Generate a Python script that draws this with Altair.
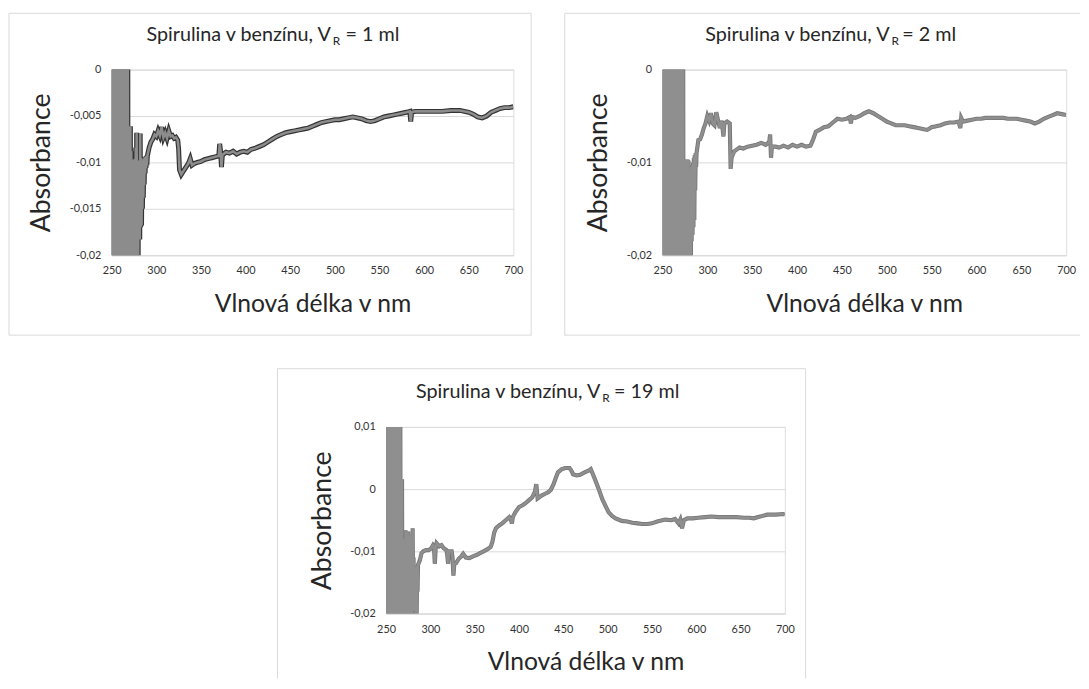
import altair as alt
import pandas as pd

FONT = "Lato"
GRID = "#d9d9d9"
FRAME = "#d9d9d9"
TXT = "#262626"

# ---------------- Panel 1: V_R = 1 ml ----------------
p1_noise_nm = [250, 251, 252, 253, 254, 255, 256, 257, 258, 259, 260, 261, 262, 263, 264, 265, 266, 267, 268, 269,
               270, 271, 272, 273, 274, 275, 276, 277, 278, 279, 280, 281, 282, 283, 284, 285, 286, 287, 288, 289]
p1_noise_hi = [0.01, 0.01, 0.01, 0.01, 0.01, 0.01, 0.01, 0.01, 0.01, 0.01, 0.01, 0.01, 0.01, 0.01, 0.01, 0.01, 0.01, 0.01, 0.01, -0.0097,
               -0.0090, -0.0061, -0.0088, -0.0097, -0.0099, -0.0098, -0.0096, -0.0084, -0.0068, -0.0098,
               -0.0098, -0.0100, -0.0069, -0.0095, -0.0100, -0.0098, -0.0096, -0.0094, -0.0094, -0.0093]
p1_noise_lo = [-0.03, -0.03, -0.03, -0.03, -0.03, -0.03, -0.03, -0.03, -0.03, -0.03, -0.03, -0.03, -0.03, -0.03, -0.03, -0.03, -0.03, -0.017, -0.03, -0.03,
               -0.03, -0.03, -0.03, -0.03, -0.03, -0.03, -0.03, -0.03, -0.03, -0.03,
               -0.0178, -0.0183, -0.0170, -0.0168, -0.0150, -0.0138, -0.0124, -0.0112, -0.0106, -0.0103]
p1_nm = [290, 292, 294, 296, 298, 300, 302, 304, 306, 308, 310, 312, 314, 316, 318, 320, 322, 324, 325, 326,
         328, 330, 332, 334, 336, 338, 340, 343, 346, 350, 354, 358, 362, 366, 370, 371, 372, 373, 374, 378,
         382, 386, 390, 394, 398, 402, 406, 410, 415, 420, 425, 430, 435, 440, 445, 450, 455, 460, 465, 470,
         475, 480, 485, 490, 495, 500, 505, 510, 515, 520, 525, 530, 535, 540, 545, 550, 555, 560, 565, 570,
         575, 580, 584, 585, 586, 590, 595, 600, 610, 620, 630, 640, 650, 655, 660, 665, 670, 675, 680, 685,
         690, 695, 700]
p1_abs = [-0.0093, -0.0084, -0.0078, -0.0075, -0.0070, -0.0072, -0.0066, -0.0071, -0.0062, -0.0073, -0.0068, -0.0074, -0.0066, -0.0072, -0.0071, -0.0074, -0.0073, -0.0076, -0.0085, -0.0108,
          -0.0113, -0.0110, -0.0107, -0.0104, -0.0101, -0.0096, -0.0103, -0.0101, -0.0100, -0.0099, -0.0097, -0.0096, -0.0095, -0.0094, -0.0093, -0.0080, -0.0088, -0.0105, -0.0092, -0.0089,
          -0.0090, -0.0088, -0.0091, -0.0089, -0.0088, -0.0089, -0.0086, -0.0085, -0.0083, -0.0081, -0.0078, -0.0075, -0.0072, -0.0070, -0.0068, -0.0067, -0.0066, -0.0065, -0.0064, -0.0063,
          -0.0061, -0.0059, -0.0057, -0.0056, -0.0055, -0.0054, -0.0054, -0.0053, -0.0052, -0.0051, -0.0052, -0.0053, -0.0055, -0.0056, -0.0055, -0.0053, -0.0051, -0.0050, -0.0049, -0.0048,
          -0.0047, -0.0046, -0.0045, -0.0056, -0.0046, -0.0045, -0.0045, -0.0045, -0.0045, -0.0045, -0.0044, -0.0044, -0.0046, -0.0048, -0.0051, -0.0052, -0.0050, -0.0046, -0.0044, -0.0042,
          -0.0041, -0.0041, -0.0040]

# ---------------- Panel 2: V_R = 2 ml ----------------
p2_noise_nm = [250, 251, 252, 253, 254, 255, 256, 257, 258, 259, 260, 261, 262, 263, 264, 265, 266, 267, 268, 269,
               270, 271, 272, 273, 274, 275, 276, 277, 278, 279, 280, 281, 282, 283, 284, 285, 286, 287]
p2_noise_hi = [0.01, 0.01, 0.01, 0.01, 0.01, 0.01, 0.01, 0.01, 0.01, 0.01, 0.01, 0.01, 0.01, 0.01, 0.01, 0.01, 0.01, 0.01, 0.01, 0.01,
               0.01, 0.01, 0.01, 0.01, -0.0097, -0.0097, -0.0100, -0.0097, -0.0097, -0.0098,
               -0.0112, -0.0110, -0.0105, -0.0103, -0.0100, -0.0095, -0.0092, -0.0090]
p2_noise_lo = [-0.03, -0.03, -0.03, -0.03, -0.03, -0.03, -0.03, -0.03, -0.03, -0.03, -0.03, -0.03, -0.03, -0.019, -0.03, -0.03, -0.03, -0.03, -0.03, -0.03,
               -0.03, -0.03, -0.03, -0.03, -0.03, -0.03, -0.03, -0.0153, -0.0153, -0.03,
               -0.03, -0.03, -0.0185, -0.0178, -0.0170, -0.0162, -0.0130, -0.0105]
p2_nm = [288, 290, 292, 294, 296, 298, 300, 302, 304, 306, 308, 310, 312, 314, 316, 318, 319, 322, 325, 326,
         327, 330, 333, 336, 340, 345, 350, 355, 360, 365, 369, 370, 371, 372, 376, 380, 385, 390, 395, 400,
         405, 410, 415, 418, 421, 425, 430, 435, 440, 445, 450, 455, 459, 460, 461, 465, 470, 475, 480, 485,
         490, 495, 500, 505, 510, 515, 520, 525, 530, 535, 540, 545, 550, 555, 560, 565, 570, 575, 580, 582,
         583, 585, 590, 595, 600, 605, 610, 615, 620, 625, 630, 635, 640, 645, 650, 655, 660, 665, 670, 675,
         680, 685, 690, 695, 700]
p2_abs = [-0.0090, -0.0076, -0.0075, -0.0070, -0.0063, -0.0058, -0.0050, -0.0055, -0.0047, -0.0058, -0.0060, -0.0046, -0.0055, -0.0063, -0.0055, -0.0072, -0.0058, -0.0056, -0.0058, -0.0107,
          -0.0095, -0.0088, -0.0086, -0.0084, -0.0085, -0.0083, -0.0082, -0.0081, -0.0079, -0.0081, -0.0078, -0.0070, -0.0095, -0.0083, -0.0083, -0.0084, -0.0082, -0.0084, -0.0081, -0.0083,
          -0.0081, -0.0083, -0.0082, -0.0075, -0.0067, -0.0065, -0.0062, -0.0061, -0.0057, -0.0053, -0.0054, -0.0053, -0.0051, -0.0058, -0.0051, -0.0052, -0.0050, -0.0047, -0.0045, -0.0047,
          -0.0050, -0.0053, -0.0056, -0.0058, -0.0060, -0.0060, -0.0060, -0.0061, -0.0062, -0.0063, -0.0064, -0.0065, -0.0062, -0.0061, -0.0060, -0.0058, -0.0057, -0.0057, -0.0056, -0.0063,
          -0.0052, -0.0056, -0.0055, -0.0054, -0.0053, -0.0053, -0.0052, -0.0052, -0.0052, -0.0052, -0.0052, -0.0053, -0.0053, -0.0053, -0.0054, -0.0055, -0.0056, -0.0058, -0.0056, -0.0053,
          -0.0051, -0.0049, -0.0047, -0.0048, -0.0049]

# ---------------- Panel 3: V_R = 19 ml ----------------
p3_noise_nm = [250, 251, 252, 253, 254, 255, 256, 257, 258, 259, 260, 261, 262, 263, 264, 265, 266, 267, 268, 269,
               270, 271, 272, 273, 274, 275, 276, 277, 278, 279, 280, 281, 282, 283, 284, 285]
p3_noise_hi = [0.02, 0.02, 0.02, 0.02, 0.02, 0.02, 0.02, 0.02, 0.02, 0.02, 0.02, 0.02, 0.02, 0.02, 0.02, 0.02, 0.02, -0.0090, 0.0016, -0.0080,
               -0.0095, -0.0100, -0.0066, -0.0095, -0.0100, -0.0068, -0.0095, -0.0074, -0.0110, -0.0105,
               -0.0063, -0.0110, -0.0125, -0.0125, -0.0125, -0.0124]
p3_noise_lo = [-0.03, -0.03, -0.03, -0.03, -0.03, -0.03, -0.03, -0.03, -0.03, -0.03, -0.03, -0.03, -0.03, -0.03, -0.03, -0.03, -0.03, -0.03, -0.03, -0.03,
               -0.03, -0.03, -0.03, -0.03, -0.03, -0.03, -0.03, -0.03, -0.03, -0.03,
               -0.0185, -0.0195, -0.0185, -0.0210, -0.0210, -0.0165]
p3_nm = [286, 288, 290, 292, 295, 298, 301, 303, 304, 305, 306, 307, 310, 312.5, 315, 318, 319, 320, 321, 324,
         325, 326, 327, 329, 332, 335, 337, 340, 344, 348, 352, 356, 360, 364, 368, 370, 372, 374, 378, 381,
         385, 389, 391, 392, 393, 396, 400, 404, 407, 411, 415, 418, 419.5, 421, 424, 426, 430, 433, 436, 439,
         442, 444, 448, 452, 457, 459, 461, 465, 469, 474, 479, 481, 484, 487, 490, 494, 498, 501, 505, 509,
         516, 522, 528, 534, 539, 545, 550, 556, 565, 572, 576, 580, 582, 584, 586, 590, 596, 602, 610, 617,
         625, 635, 645, 654, 660, 665, 670, 675, 680, 690, 698, 700]
p3_abs = [-0.0122, -0.0115, -0.0103, -0.0100, -0.0098, -0.0098, -0.0095, -0.0090, -0.0092, -0.0120, -0.0095, -0.0087, -0.0092, -0.0090, -0.0095, -0.0098, -0.0105, -0.0120, -0.0100, -0.0100,
          -0.0110, -0.0139, -0.0120, -0.0119, -0.0112, -0.0108, -0.0104, -0.0110, -0.0111, -0.0108, -0.0106, -0.0103, -0.0100, -0.0097, -0.0093, -0.0085, -0.0070, -0.0063, -0.0058, -0.0055,
          -0.0050, -0.0045, -0.0050, -0.0055, -0.0045, -0.0037, -0.0029, -0.0026, -0.0023, -0.0018, -0.0013, -0.0004, 0.0008, -0.0015, -0.0012, -0.0010, -0.0007, -0.0005, -0.0001, 0.0008,
          0.0020, 0.0027, 0.0032, 0.0034, 0.0034, 0.0030, 0.0024, 0.0022, 0.0023, 0.0027, 0.0030, 0.0032, 0.0022, 0.0011, 0.0000, -0.0016, -0.0028, -0.0037, -0.0043, -0.0047,
          -0.0051, -0.0052, -0.0054, -0.0055, -0.0056, -0.0056, -0.0055, -0.0052, -0.0049, -0.0050, -0.0048, -0.0055, -0.0049, -0.0063, -0.0050, -0.0047, -0.0047, -0.0046, -0.0045, -0.0044,
          -0.0045, -0.0045, -0.0045, -0.0046, -0.0046, -0.0047, -0.0045, -0.0043, -0.0041, -0.0041, -0.0040, -0.0041]

x_ticks = [250, 300, 350, 400, 450, 500, 550, 600, 650, 700]


def series_frame(noise_nm, hi, lo, nm, ab):
    xs, ys = [], []
    for w, h, l in zip(noise_nm, hi, lo):
        xs += [w, w + 0.5]
        ys += [h, l]
    xs += nm
    ys += ab
    return pd.DataFrame({"nm": xs, "a": ys, "o": list(range(len(xs)))})


def one():
    return pd.DataFrame({"k": [0]})


def panel(df, W, H, ydom, yvals, sub_value, tx, sides, L, T, R, B,
          under_col, top_col, under_w, top_w, ytp):
    xs = alt.X("nm:Q", scale=alt.Scale(domain=[250, 700], nice=False, zero=False),
               axis=alt.Axis(values=x_ticks, grid=False, ticks=False, domain=True, domainColor=GRID,
                             labelFlush=False, labelFontSize=11, labelColor="#333333", labelPadding=10,
                             labelFont=FONT, title="Vlnová délka v nm", titleFont=FONT, titleFontSize=25,
                             titleFontWeight="normal", titleColor=TXT, titlePadding=16))
    ys = alt.Y("a:Q", scale=alt.Scale(domain=ydom, nice=False, zero=False),
               axis=alt.Axis(values=yvals, grid=True, gridColor=GRID, ticks=False, domain=False,
                             labelExpr="replace(toString(datum.value), '.', ',')",
                             labelFontSize=11, labelColor="#333333", labelPadding=11, labelFont=FONT,
                             title="Absorbance", titleFont=FONT, titleFontSize=27,
                             titleFontWeight="normal", titleColor=TXT, titlePadding=ytp))
    base = alt.Chart(df)
    under = base.mark_line(clip=True, color=under_col, strokeWidth=under_w).encode(x=xs, y=ys, order="o:Q")
    top = base.mark_line(clip=True, color=top_col, strokeWidth=top_w).encode(x="nm:Q", y="a:Q", order="o:Q")

    layers = []
    edges = {
        "top": dict(x=alt.value(-L), x2=alt.value(W + R), y=alt.value(-T), y2=alt.value(-T)),
        "bottom": dict(x=alt.value(-L), x2=alt.value(W + R), y=alt.value(H + B), y2=alt.value(H + B)),
        "left": dict(x=alt.value(-L), x2=alt.value(-L), y=alt.value(-T), y2=alt.value(H + B)),
        "right": dict(x=alt.value(W + R), x2=alt.value(W + R), y=alt.value(-T), y2=alt.value(H + B)),
    }
    for s in sides:
        layers.append(alt.Chart(one()).mark_rule(color=FRAME, strokeWidth=1).encode(**edges[s]))

    tfs = 20
    t1 = alt.Chart(one()).mark_text(text="Spirulina v benzínu, V", font=FONT, fontSize=tfs, color=TXT,
                                    align="right", baseline="middle").encode(
        x=alt.value(tx[0]), y=alt.value(-35))
    t2 = alt.Chart(one()).mark_text(text="R", font=FONT, fontSize=12, color=TXT,
                                    align="left", baseline="middle").encode(
        x=alt.value(tx[1]), y=alt.value(-29))
    t3 = alt.Chart(one()).mark_text(text="= " + sub_value + " ml", font=FONT, fontSize=tfs, color=TXT,
                                    align="left", baseline="middle").encode(
        x=alt.value(tx[2]), y=alt.value(-35))
    layers += [under, top, t1, t2, t3]
    return alt.layer(*layers).properties(width=W, height=H)


df1 = series_frame(p1_noise_nm, p1_noise_hi, p1_noise_lo, p1_nm, p1_abs)
df2 = series_frame(p2_noise_nm, p2_noise_hi, p2_noise_lo, p2_nm, p2_abs)
df3 = series_frame(p3_noise_nm, p3_noise_hi, p3_noise_lo, p3_nm, p3_abs)

c1 = panel(df1, 407, 188, [-0.02, 0], [-0.02, -0.015, -0.01, -0.005, 0], "1", (222, 224, 237),
           ["top", "bottom", "left", "right"], 104, 57, 18, 81,
           "#333333", "#8c8c8c", 5.0, 2.6, 14)
c2 = panel(df2, 409, 188, [-0.02, 0], [-0.02, -0.01, 0], "2", (230, 232, 243),
           ["top", "bottom", "left"], 99, 57, 14, 81,
           "#747474", "#8f8f8f", 4.2, 2.6, 14)
c3 = panel(df3, 404, 189, [-0.02, 0.01], [-0.02, -0.015, -0.01, -0.005, 0, 0.005, 0.01], "19", (217, 219, 231),
           ["top", "left", "right"], 110, 59, 21, 66,
           "#747474", "#8f8f8f", 4.2, 2.6, 14)

top_row = alt.hconcat(c1, c2, spacing=32)

chart = alt.vconcat(top_row, c3, spacing=32, center=True).properties(
    padding={"left": 0, "top": 0, "right": 0, "bottom": 0}
).configure_view(stroke=None).configure(background="white")

chart.save("out.html", embed_options={"renderer": "svg", "actions": False})
